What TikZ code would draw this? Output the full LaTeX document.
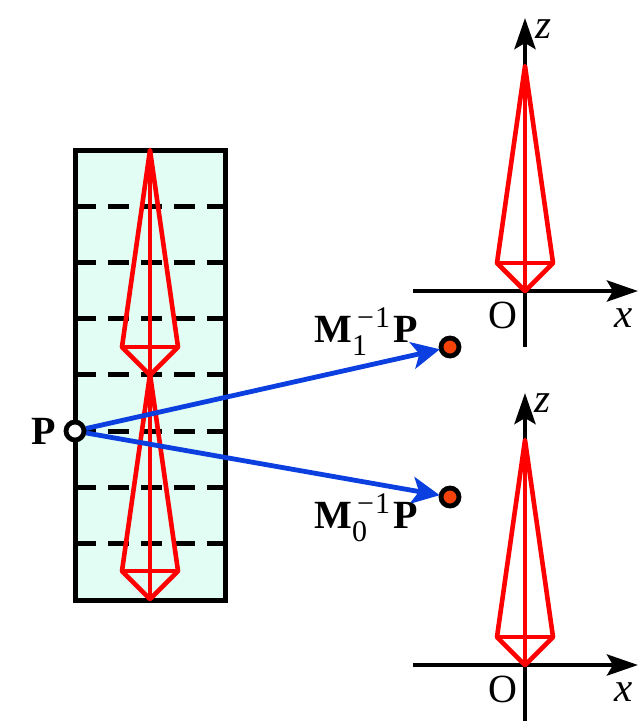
\documentclass[tikz,border=0pt]{standalone}
\usepackage{fontspec}
\setmainfont{Liberation Serif}
\usetikzlibrary{arrows.meta}
\definecolor{panel}{HTML}{E2FDF4}
\definecolor{ptblue}{HTML}{0B3FE0}
\definecolor{ptorange}{HTML}{F5420A}
\tikzset{
  redline/.style={draw=red,line width=4.6pt,line join=round},
  axis/.style={draw=black,line width=4.6pt,-{Stealth[length=31pt,width=21pt,inset=6pt]}},
  dashline/.style={draw=black,line width=5pt,dash pattern=on 21pt off 12pt},
  dot/.style={circle,draw=black,line width=4.8pt,minimum size=18pt,inner sep=0pt},
  mapped/.style={draw=ptblue,line width=4.8pt,-{Stealth[length=28pt,width=27pt,inset=7pt]},shorten >=-1pt},
  lab/.style={inner sep=0pt,font=\fontsize{40}{40}\selectfont},
  italab/.style={inner sep=0pt,font=\fontsize{41}{41}\selectfont\itshape},
  bold/.style={inner sep=0pt,font=\fontsize{40}{40}\selectfont\bfseries},
  script/.style={inner sep=0pt,anchor=base west,font=\fontsize{30}{30}\selectfont}
}
\newcommand{\kite}[2]{%
  \draw[redline] (#1,#2) -- (#1-28,#2+197) -- (#1,#2+225) -- (#1+28,#2+197) -- cycle;
  \draw[redline] (#1-28,#2+197) -- (#1+28,#2+197);
  \draw[redline] (#1,#2) -- (#1,#2+225);
}
\begin{document}
\begin{tikzpicture}[x=1pt,y=-1pt]
\useasboundingbox (0,0) rectangle (638,721);
\fill[panel] (75,150) rectangle (225,600);
\foreach \y in {206,262,318,374,431,487,543}
  \draw[dashline] (75,\y) -- (225,\y);
\draw[black,line width=5pt] (75,150) rectangle (225,600);
\kite{150}{150}
\kite{150}{374}
% axes
\coordinate (xa) at (413,291); \coordinate (xb) at (638,291);
\coordinate (za) at (525,347); \coordinate (zb) at (525,18);
\draw[axis] (xa) -- (xb);
\draw[axis] (za) -- (zb);
\kite{525}{66}
\coordinate (xc) at (413,665); \coordinate (xd) at (638,665);
\coordinate (zc) at (525,721); \coordinate (zd) at (525,393);
\draw[axis] (xc) -- (xd);
\draw[axis] (zc) -- (zd);
\kite{525}{440}
% labels
\node[italab] (z1) at (543,29) {z};
\node[italab] (x1) at (624,318) {x};
\node[lab] (o1) at (503,315) {O};
\node[italab] (z2) at (542,403) {z};
\node[italab] (x2) at (624,692) {x};
\node[lab] (o2) at (503,689) {O};
% points
\node[dot,fill=white] (P) at (75,431) {};
\node[dot,fill=ptorange] (A) at (450,347) {};
\node[dot,fill=ptorange] (B) at (450,497) {};
\draw[mapped] (P) -- (A);
\draw[mapped] (P) -- (B);
\node[bold] (pl) at (43.5,431.5) {P};
\node[bold,anchor=base west] (m1) at (314,342) {M};
\node[script] (s1) at (352,355) {1};
\node[script] (e1) at (357,327) {\char"2212\kern1pt 1};
\node[bold,anchor=base west] (p1) at (393,342) {P};
\node[bold,anchor=base west] (m0) at (314,528) {M};
\node[script] (s0) at (352,541) {0};
\node[script] (e0) at (357,513) {\char"2212\kern1pt 1};
\node[bold,anchor=base west] (p0) at (393,528) {P};
\end{tikzpicture}
\end{document}
